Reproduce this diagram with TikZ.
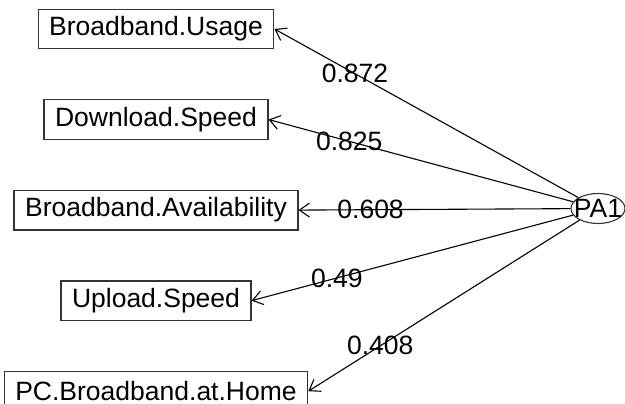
\documentclass[tikz,border=0pt]{standalone}
\usepackage{fontspec}
\setmainfont{Liberation Sans}
\usepackage{tikz}
\usetikzlibrary{arrows.meta,positioning,shapes.geometric}
\tikzset{var/.style={draw=black!80,line width=1.3pt,minimum height=39.5pt,inner xsep=11pt,font=\fontsize{26.5}{30}\selectfont},
load/.style={-{Straight Barb[length=10pt,width=14pt]},line width=1.1pt},
wt/.style={pos=0.735,font=\fontsize{26.5}{30}\selectfont}}

\begin{document}
\begin{tikzpicture}[x=1pt,y=1pt]
\useasboundingbox (0,0) rectangle (625,-404);
\node[var] (usage) at (156,-29) {Broadband.Usage};
\node[var,below=49.75pt of usage] (down) {Download.Speed};
\node[var,below=49.75pt of down] (avail) {Broadband.Availability};
\node[var,below=49.75pt of avail] (up) {Upload.Speed};
\node[var,below=49.75pt of up] (home) {PC.Broadband.at.Home};
\node[ellipse,draw=black!80,line width=1.1pt,minimum width=54pt,minimum height=30pt,inner sep=0pt,
  label={[font=\fontsize{26.5}{30}\selectfont]center:PA1}] (pa) at (598,-208.5) {};
\draw[load] (pa) -- node[wt]{0.872} (usage.east);
\draw[load] (pa) -- node[wt]{0.825} (down.east);
\draw[load] (pa) -- node[wt]{0.608} (avail.east);
\draw[load] (pa) -- node[wt]{0.49} (up.east);
\draw[load] (pa) -- node[wt]{0.408} (home.east);
\end{tikzpicture}
\end{document}
